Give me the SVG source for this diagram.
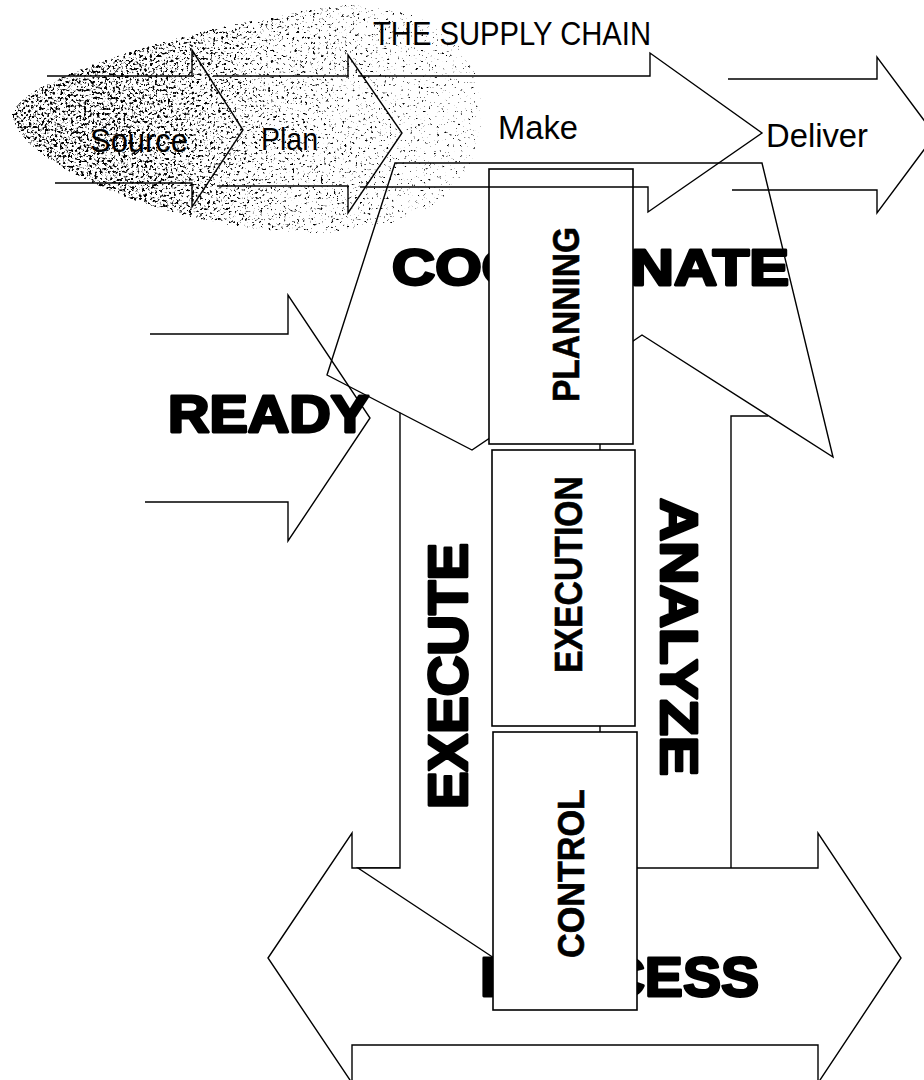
<svg xmlns="http://www.w3.org/2000/svg" width="924" height="1080" viewBox="0 0 924 1080">
  <style>
    .ln{fill:none;stroke:#000;stroke-width:1.4;stroke-linejoin:miter}
    .wf{fill:#fff;stroke:#000;stroke-width:1.4;stroke-linejoin:miter}
    .box{fill:#fff;stroke:#000;stroke-width:1.6}
    .lbl{font-family:"Liberation Sans",Arial,sans-serif;fill:#000}
    .big{font-family:"Liberation Sans",Arial,sans-serif;font-weight:bold;fill:#000;stroke:#000;stroke-width:2.8;stroke-linejoin:round}
    .boxt{font-family:"Liberation Sans",Arial,sans-serif;font-weight:bold;fill:#000;stroke:#000;stroke-width:0.6}
  </style>
  <defs>
    <linearGradient id="stippleFade" x1="0" y1="0" x2="1" y2="0">
      <stop offset="0" stop-color="#000" stop-opacity="0.5"/>
      <stop offset="0.3" stop-color="#000" stop-opacity="0.47"/>
      <stop offset="0.55" stop-color="#000" stop-opacity="0.39"/>
      <stop offset="0.8" stop-color="#000" stop-opacity="0.34"/>
      <stop offset="1" stop-color="#000" stop-opacity="0.3"/>
    </linearGradient>
    <!-- speckled grain: noise thresholded against the fade of the shape -->
    <filter id="grain" filterUnits="userSpaceOnUse" x="0" y="-10" width="500" height="260">
      <feTurbulence type="fractalNoise" baseFrequency="0.38" numOctaves="4" seed="11" result="noise"/>
      <feColorMatrix in="noise" type="matrix" values="0 0 0 0 0  0 0 0 0 0  0 0 0 0 0  1 0 0 0 0" result="na"/>
      <feComposite in="na" in2="SourceGraphic" operator="arithmetic" k1="0" k2="1" k3="1" k4="-1" result="sum"/>
      <feComponentTransfer in="sum">
        <feFuncA type="linear" slope="7" intercept="0"/>
      </feComponentTransfer>
    </filter>
  </defs>

  <rect width="924" height="1080" fill="#fff"/>

  <!-- grainy shaded oval behind the first stages -->
  <g id="stipple-oval">
    <path d="M12,115 C14,85 150,35 330,6 C420,-2 482,40 482,112 C482,190 420,232 320,233 C170,234 14,160 12,115 Z" fill="url(#stippleFade)" filter="url(#grain)"/>
  </g>

  <!-- cycle arrows -->
  <g id="process-arrow">
    <polygon class="wf" points="268,958 352,833 352,868 818,868 818,833 901,958 818,1083 818,1045 352,1045 352,1083"/>
  </g>
  <g id="execute-arrow">
    <polygon fill="#fff" points="400,412.7 472,450 600,363.5 600,868 636,868 497,960 358,868 400,868"/>
    <path class="ln" d="M400,412.7 V868 H358 L497,960 L636,868 H600 V363.5"/>
  </g>
  <g id="analyze-arrow">
    <path class="ln" d="M731,868 V416 H768"/>
  </g>
  <g id="coordinate-arrow">
    <polygon class="ln" points="395,163 762,163 833,457 642,335 472,450 327,375"/>
  </g>
  <g id="ready-arrow">
    <path class="ln" d="M150,334 H288 V295 L370,418 L288,541 V502 H145"/>
  </g>

  <!-- cycle labels -->
  <g id="cycle-labels">
    <text class="big" x="168" y="432" font-size="51" textLength="201" lengthAdjust="spacingAndGlyphs">READY</text>
    <text class="big" x="392" y="285" font-size="50" textLength="397" lengthAdjust="spacingAndGlyphs">COORDINATE</text>
    <text class="big" transform="translate(467,809) rotate(-90)" font-size="55" textLength="266" lengthAdjust="spacingAndGlyphs">EXECUTE</text>
    <text class="big" transform="translate(661,498) rotate(90)" font-size="51" textLength="278" lengthAdjust="spacingAndGlyphs">ANALYZE</text>
    <text class="big" x="480" y="996" font-size="56" textLength="279" lengthAdjust="spacingAndGlyphs">PROCESS</text>
  </g>

  <!-- stacked boxes -->
  <g id="planning">
    <rect class="box" x="489" y="169" width="144" height="275"/>
    <text class="boxt" transform="translate(579,402) rotate(-90)" font-size="37" textLength="175" lengthAdjust="spacingAndGlyphs">PLANNING</text>
  </g>
  <g id="execution">
    <rect class="box" x="492" y="450" width="143" height="276"/>
    <text class="boxt" transform="translate(582,673) rotate(-90)" font-size="38" textLength="197" lengthAdjust="spacingAndGlyphs">EXECUTION</text>
  </g>
  <g id="control">
    <rect class="box" x="493" y="732" width="144" height="278"/>
    <text class="boxt" transform="translate(584,958) rotate(-90)" font-size="37" textLength="169" lengthAdjust="spacingAndGlyphs">CONTROL</text>
  </g>

  <!-- supply chain arrows -->
  <g id="supply-chain">
    <path class="ln" d="M47,76 H192 V50 L243,130 L192,207 V183 H55"/>
    <path class="ln" d="M213,76 H348 V55 L402,133 L348,213 V186 H217"/>
    <path class="ln" d="M358,76 H650 V53 L762,133 L648,212 V187 H360"/>
    <path class="ln" d="M728,79 H877 V57 L935,135 L877,213 V190 H732"/>
    <text class="lbl" x="373" y="45" font-size="34" textLength="278" lengthAdjust="spacingAndGlyphs">THE SUPPLY CHAIN</text>
    <text class="lbl" x="90" y="152" font-size="33" textLength="98" lengthAdjust="spacingAndGlyphs">Source</text>
    <text class="lbl" x="261" y="150" font-size="32" textLength="57" lengthAdjust="spacingAndGlyphs">Plan</text>
    <text class="lbl" x="498" y="139" font-size="33" textLength="80" lengthAdjust="spacingAndGlyphs">Make</text>
    <text class="lbl" x="766" y="147" font-size="34" textLength="102" lengthAdjust="spacingAndGlyphs">Deliver</text>
  </g>
</svg>
